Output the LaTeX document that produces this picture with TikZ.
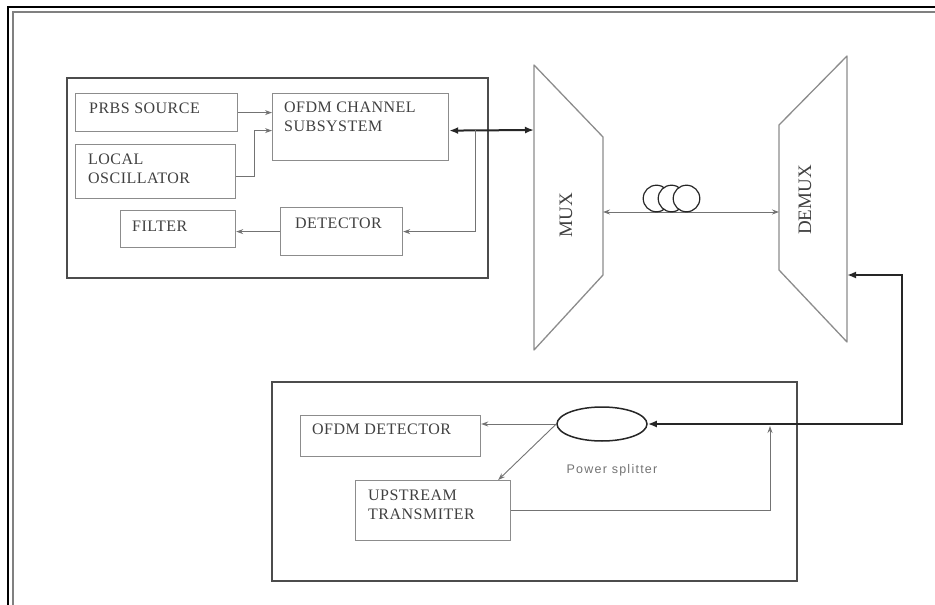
\documentclass[tikz,border=0pt]{standalone}
\usepackage{fontspec}
\setmainfont{Liberation Serif}
\setsansfont{Liberation Sans}
\usetikzlibrary{arrows.meta,shapes.geometric,positioning,calc}

\begin{document}
\begin{tikzpicture}[x=1pt,y=-1pt,
  box/.style={draw=black!45,line width=1.2pt,anchor=north west,inner sep=0pt},
  txt/.style={anchor=west,align=left,inner sep=0pt,text=black!75,
    font=\fontsize{16}{19}\selectfont\addfontfeature{LetterSpace=3}},
  frame/.style={draw=black!70,line width=2.4pt},
  dev/.style={draw=black!45,line width=1.3pt,line join=round},
  devtxt/.style={rotate=90,text=black!75,font=\fontsize{19}{22}\selectfont},
  arrow/.style={-{Stealth[length=7pt,width=5pt]},draw=black!55,line width=0.9pt},
  bigarrow/.style={-{Latex[length=9pt,width=7pt]},draw=black!85,line width=2pt}
]
  \useasboundingbox (0,0) rectangle (935,605);
  % page frame, cut off at the right and bottom
  \draw[black,line width=2pt] (935,7.3) -- (8.3,7.3) -- (8.3,605);
  \draw[black!50,line width=2pt] (935,12.3) -- (13.3,12.3) -- (13.3,605);

  % central office
  \draw[frame] (67,78) rectangle (488,278);
  \node[box,minimum width=162pt,minimum height=38pt] (prbs) at (75,93) {};
  \node[box,minimum width=176pt,minimum height=67pt] (ofdm) at (272,93) {};
  \node[box,minimum width=160pt,minimum height=54pt] (lo) at (75,144) {};
  \node[box,minimum width=115pt,minimum height=37pt] (filter) at (120,210) {};
  \node[box,minimum width=122pt,minimum height=48pt] (det) at (280,207) {};
  \node[txt] (prbs-t) at (89,108) {PRBS SOURCE};
  \node[txt] (ofdm-t) at (284,117) {OFDM CHANNEL\\SUBSYSTEM};
  \node[txt] (lo-t) at (88,169) {LOCAL\\OSCILLATOR};
  \node[txt] (filter-t) at (132,226) {FILTER};
  \node[txt] (det-t) at (295,223) {DETECTOR};

  % mux / demux
  \draw[dev] (534,65) -- (603,137) -- (603,275) -- (534,350) -- cycle;
  \draw[dev] (847,56) -- (779,125) -- (779,270) -- (847,342) -- cycle;
  \node[devtxt] (mux) at (566,215) {MUX};
  \node[devtxt] (demux) at (805,200) {DEMUX};
  \coordinate (mux-in) at (534,130);
  \coordinate (mux-out) at (603,212);
  \coordinate (demux-l) at (779,212);
  \coordinate (demux-in) at (847,275);
  \coordinate (tap) at (475,130);
  \coordinate (corner) at (902,275);

  % onu
  \draw[frame] (272,382) rectangle (797,581);
  \node[box,minimum width=180pt,minimum height=41pt] (odet) at (300,415) {};
  \node[box,minimum width=155pt,minimum height=60pt] (up) at (355,480) {};
  \node[txt] (odet-t) at (312,429) {OFDM DETECTOR};
  \node[txt] (up-t) at (368,505) {UPSTREAM\\TRANSMITER};
  \node[ellipse,draw=black!85,line width=1.5pt,minimum width=90pt,
    minimum height=34pt,inner sep=0pt] (split) at (602,424) {};
  \node[text=black!55,font=\sffamily\fontsize{12.5}{14}\selectfont\addfontfeature{LetterSpace=10}]
    (split-t) at (612,470) {Power splitter};
  \coordinate (upjoin) at (770,426);

  % connections
  \draw[arrow] (prbs.east) -- (prbs.east -| ofdm.west);
  \draw[arrow] ([yshift=-5pt]lo.east) -- ++(18,0) |- ([yshift=-3.5pt]ofdm.west);
  \draw[bigarrow,{Latex[length=9pt,width=7pt]}-{Latex[length=9pt,width=7pt]}]
    ([yshift=-3.5pt]ofdm.east) -- (mux-in);
  \draw[arrow] (tap) |- (det.east);
  \draw[arrow] (det.west) -- (det.west -| filter.east);
  \draw[arrow,{Stealth[length=7pt,width=5pt]}-{Stealth[length=7pt,width=5pt]}]
    (mux-out) -- (demux-l);
  \foreach \cx in {656.5,671.5,686.5}
    \draw[black!85,line width=1.2pt,fill=white] (\cx,198.5) circle[radius=13.3pt];
  \draw[bigarrow,{Latex[length=9pt,width=7pt]}-{Latex[length=9pt,width=7pt]}]
    (split.east) -| (corner) -- (demux-in);
  \draw[arrow] (split.west) -- (split.west -| odet.east);
  \draw[arrow] (split.west) -- ([xshift=-13pt]up.north east);
  \draw[arrow] (up.east) -| (upjoin);
\end{tikzpicture}
\end{document}
